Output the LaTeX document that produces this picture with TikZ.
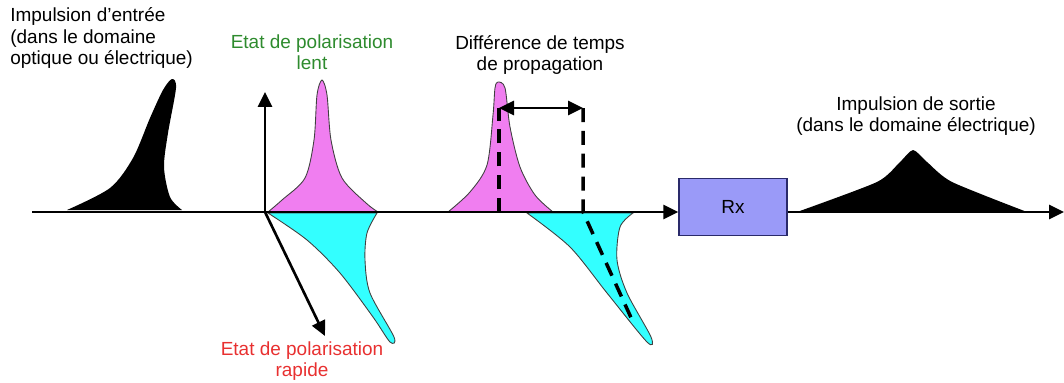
\documentclass[tikz,border=0pt]{standalone}
\usepackage{fontspec}
\setmainfont{Liberation Sans}
\usepackage{xcolor}
\usetikzlibrary{positioning,arrows.meta}
\definecolor{slowpink}{HTML}{F07EF0}
\definecolor{fastcyan}{HTML}{33FFFF}
\definecolor{slowgreen}{HTML}{2E8B2E}
\definecolor{fastred}{HTML}{E83030}
\definecolor{rxblue}{HTML}{9A9AF8}
\definecolor{rxedge}{HTML}{2A2A6A}

\begin{document}
\begin{tikzpicture}[
  x=0.02cm, y=-0.02cm,
  font=\fontsize{10.8}{12}\selectfont,
  axis/.style={line width=1.7pt, -{Triangle[length=0.3cm, width=0.28cm]}},
  vec/.style={line width=1.5pt, -{Triangle[length=0.3cm, width=0.28cm]}},
  gap/.style={line width=1.7pt, {Triangle[length=0.3cm, width=0.28cm]}-{Triangle[length=0.3cm, width=0.28cm]}},
  pulse/.style={draw=black!75, line width=0.5pt},
  guide/.style={line width=2pt, dash pattern=on 8pt off 5pt},
  txt/.style={align=center, inner sep=0pt},
]
\useasboundingbox (0,0) rectangle (1064,382);

% pulses
\fill[black] plot[smooth, tension=0.5] coordinates {(67,210) (110,188) (133,158) (150,118) (163,90) (172,79) (176,88) (168,133) (164,167) (170,197) (182,210)} -- cycle;
\fill[pulse, fill=slowpink] plot[smooth, tension=0.5] coordinates {(268,212) (282,200) (305,178) (314,140) (317,95) (322,80) (327,95) (331,140) (342,178) (366,203) (378,212)} -- cycle;
\fill[pulse, fill=fastcyan] plot[smooth, tension=0.5] coordinates {(268,213) (307,240) (340,273) (373,317) (390,342) (394,337) (370,293) (365,260) (367,233) (377,213)} -- cycle;
\fill[pulse, fill=slowpink] plot[smooth, tension=0.5] coordinates {(448,212) (470,192) (487,165) (493,115) (495,88) (498,82) (505,88) (510,127) (520,167) (535,195) (553,212)} -- cycle;
\fill[pulse, fill=fastcyan] plot[smooth, tension=0.5] coordinates {(527,213) (570,247) (607,293) (647,342) (651,337) (627,293) (617,260) (620,227) (633,213)} -- cycle;
\fill[black] plot[smooth, tension=0.4] coordinates {(797,212) (877,182) (900,162) (913,150) (927,162) (952,182) (1027,212)} -- cycle;

% receiver and axis
\node[draw=rxedge, line width=0.8pt, fill=rxblue, minimum width=2.16cm, minimum height=1.14cm] (rx) at (733,207) {Rx};
\coordinate (ax0) at (32,212);
\coordinate (axend) at (1064,212);
\coordinate (o1) at (265,212);
\coordinate (yup) at (265,92);
\coordinate (xdn) at (325,336);
\draw[axis] (ax0) -- (ax0 -| rx.west);
\draw[axis] (ax0 -| rx.east) -- (axend);
\draw[vec] (o1) -- (yup);
\draw[vec] (o1) -- (xdn);

% delay
\coordinate (slowtop) at (499,108);
\coordinate (slowbot) at (499,212);
\coordinate (fasttop) at (583,108);
\coordinate (fastmid) at (583,212);
\coordinate (fastbot) at (633,322);
\draw[guide] (slowbot) -- (slowtop);
\draw[guide] (fasttop) -- (fastmid) -- (fastbot);
\draw[gap] (slowtop) -- (fasttop);

% labels
\node[txt, align=left, anchor=west] (inlbl) at (10,38) {Impulsion d'entrée\\(dans le domaine\\optique ou électrique)};
\node[txt, text=slowgreen] (slowlbl) at (312,52) {Etat de polarisation\\lent};
\node[txt] (dlbl) at (540,55) {Différence de temps\\de propagation};
\node[txt] (outlbl) at (916,116) {Impulsion de sortie\\(dans le domaine électrique)};
\node[txt, text=fastred] (fastlbl) at (302,361) {Etat de polarisation\\rapide};
\end{tikzpicture}
\end{document}
